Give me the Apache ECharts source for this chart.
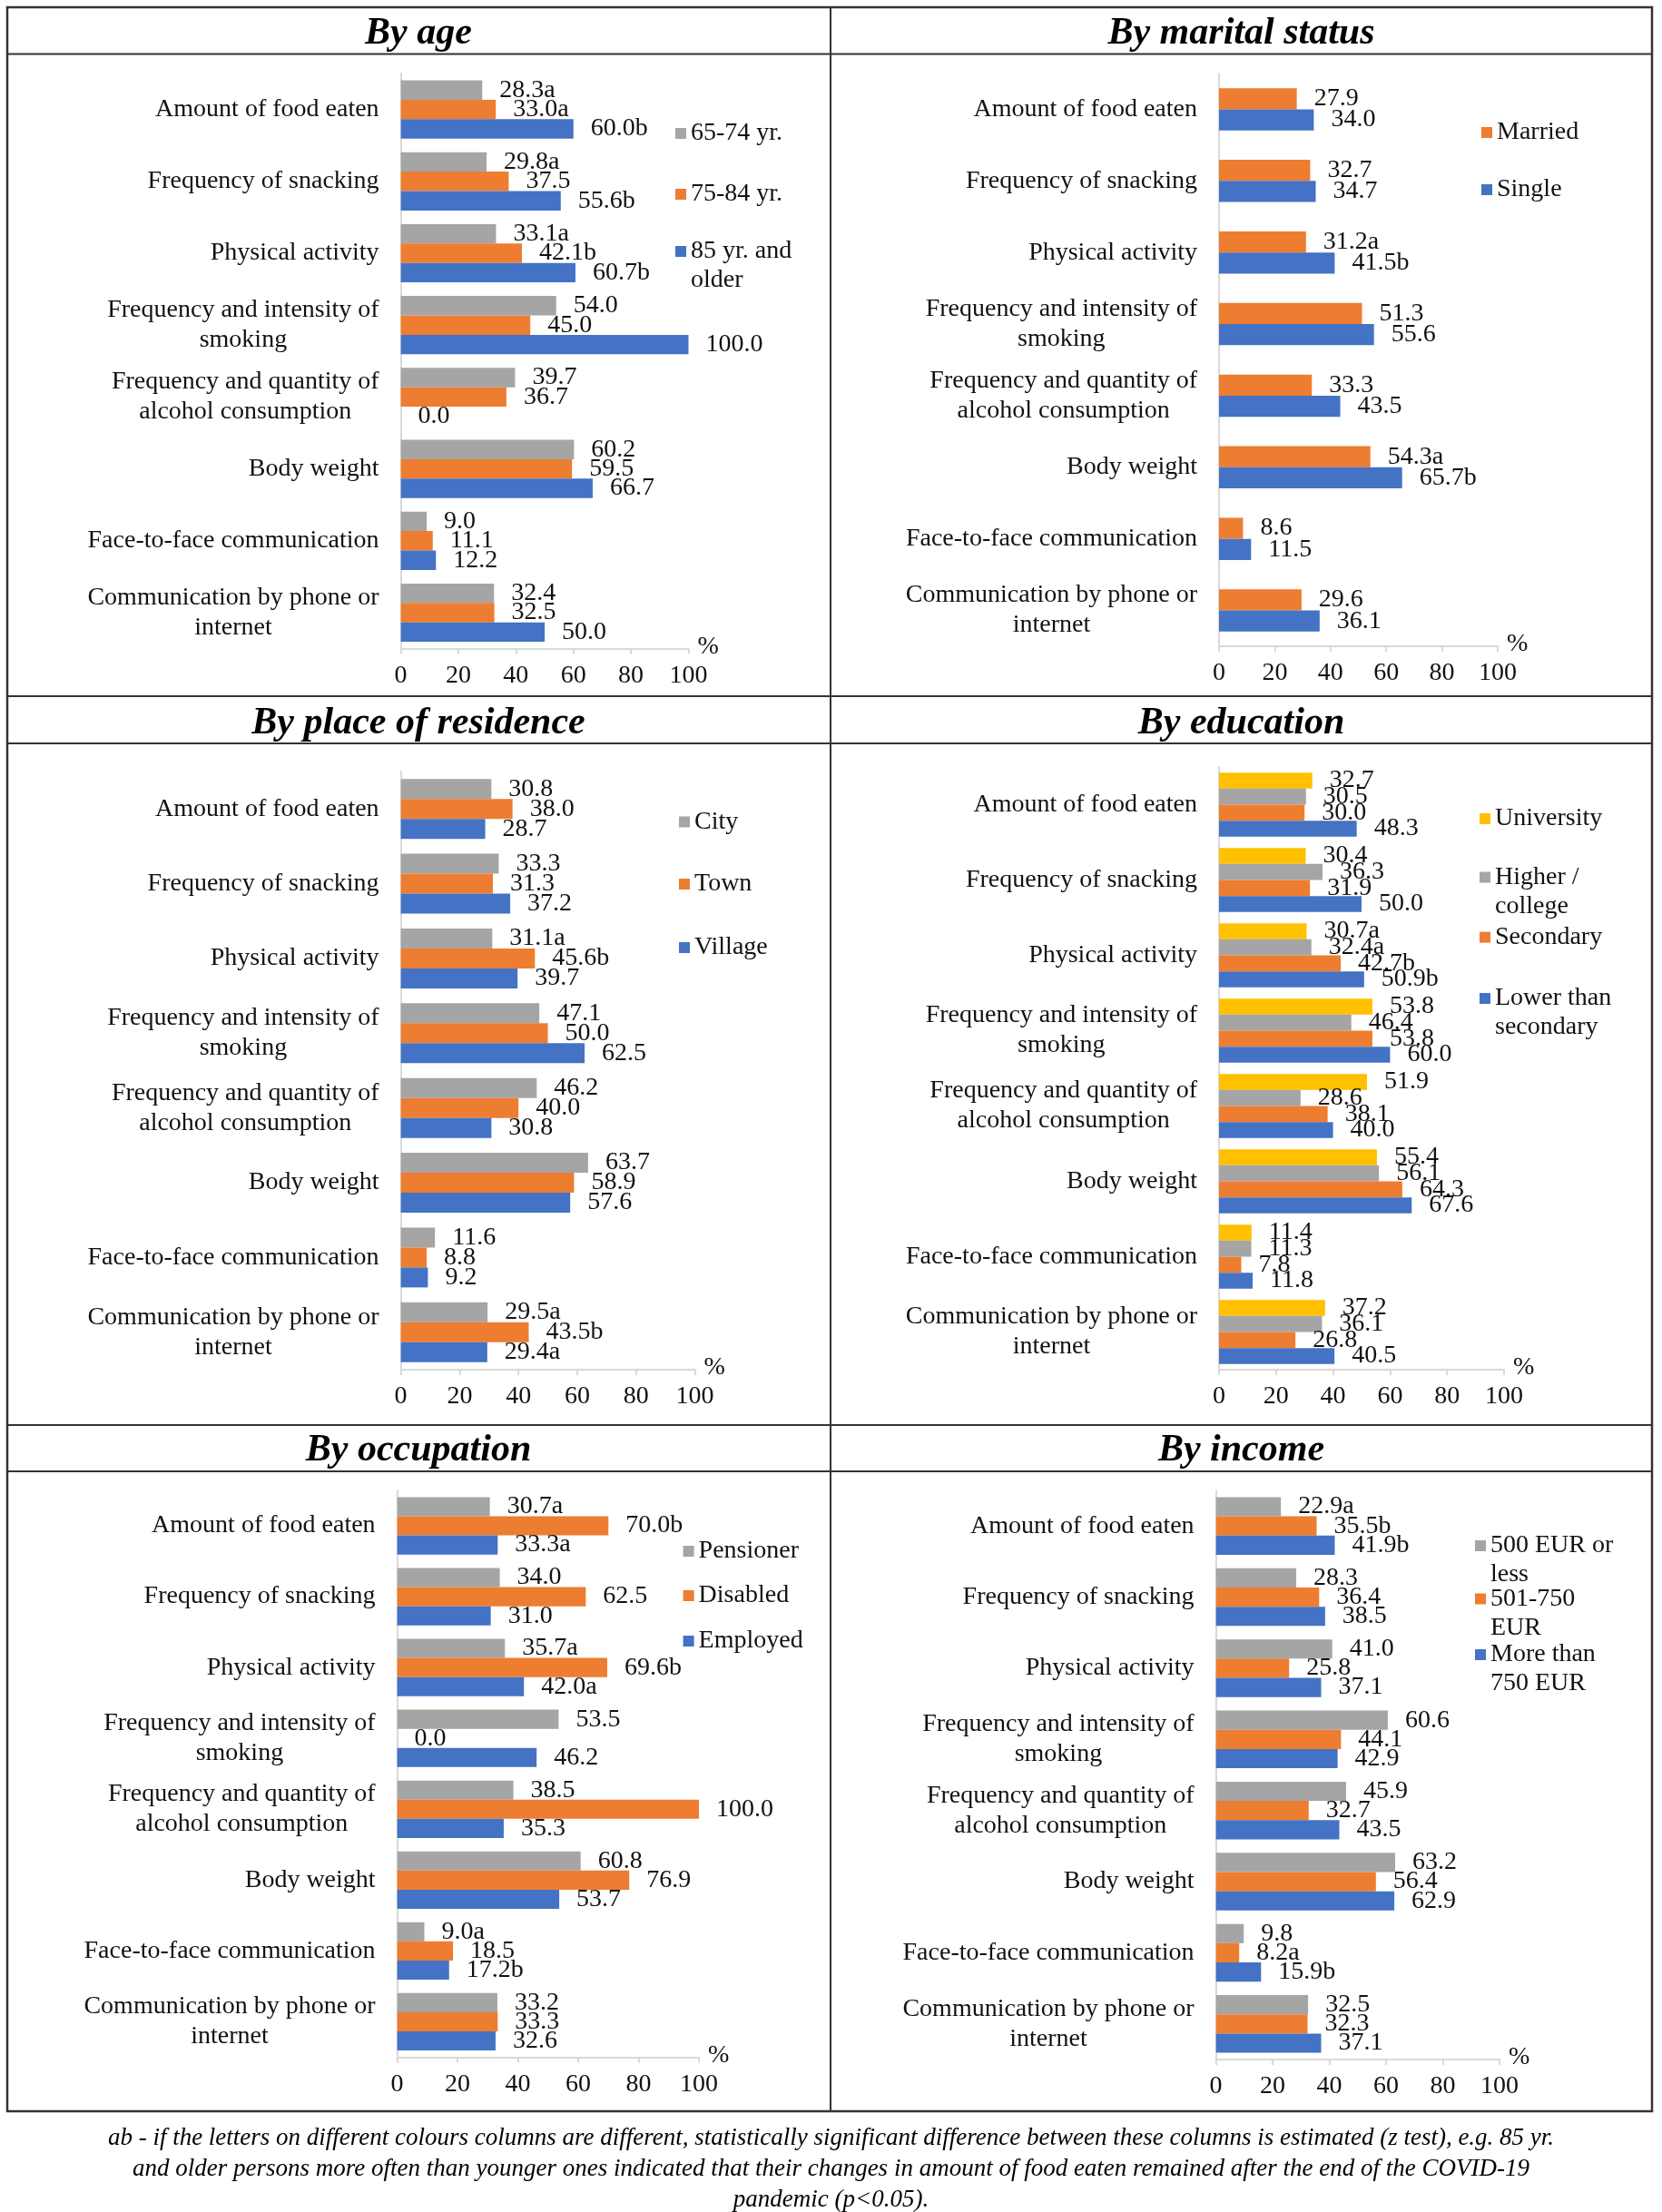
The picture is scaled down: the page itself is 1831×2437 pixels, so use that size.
<!DOCTYPE html>
<html><head><meta charset="utf-8">
<script src="https://cdn.jsdelivr.net/npm/echarts@6/dist/echarts.min.js"></script>
<style>html,body{margin:0;padding:0;background:#fff}#c{width:1831px;height:2437px}</style>
</head><body><div id="c"></div>
<script>
// ---------- DATA ----------
const categories = ['Amount of food eaten', 'Frequency of snacking', 'Physical activity',
  'Frequency and intensity of\nsmoking', 'Frequency and quantity of\nalcohol consumption',
  'Body weight', 'Face-to-face communication', 'Communication by phone or\ninternet'];
const xTicks = [0, 20, 40, 60, 80, 100];

const ageNames = ['65-74 yr.', '75-84 yr.', '85 yr. and older'];
const age6574 = [28.3, 29.8, 33.1, 54.0, 39.7, 60.2, 9.0, 32.4];
const age6574Sig = ['a', 'a', 'a', '', '', '', '', ''];
const age7584 = [33.0, 37.5, 42.1, 45.0, 36.7, 59.5, 11.1, 32.5];
const age7584Sig = ['a', '', 'b', '', '', '', '', ''];
const age85 = [60.0, 55.6, 60.7, 100.0, 0.0, 66.7, 12.2, 50.0];
const age85Sig = ['b', 'b', 'b', '', '', '', '', ''];

const maritalNames = ['Married', 'Single'];
const married = [27.9, 32.7, 31.2, 51.3, 33.3, 54.3, 8.6, 29.6];
const marriedSig = ['', '', 'a', '', '', 'a', '', ''];
const single = [34.0, 34.7, 41.5, 55.6, 43.5, 65.7, 11.5, 36.1];
const singleSig = ['', '', 'b', '', '', 'b', '', ''];

const residenceNames = ['City', 'Town', 'Village'];
const city = [30.8, 33.3, 31.1, 47.1, 46.2, 63.7, 11.6, 29.5];
const citySig = ['', '', 'a', '', '', '', '', 'a'];
const town = [38.0, 31.3, 45.6, 50.0, 40.0, 58.9, 8.8, 43.5];
const townSig = ['', '', 'b', '', '', '', '', 'b'];
const village = [28.7, 37.2, 39.7, 62.5, 30.8, 57.6, 9.2, 29.4];
const villageSig = ['', '', '', '', '', '', '', 'a'];

const educationNames = ['University', 'Higher / college', 'Secondary', 'Lower than secondary'];
const university = [32.7, 30.4, 30.7, 53.8, 51.9, 55.4, 11.4, 37.2];
const universitySig = ['', '', 'a', '', '', '', '', ''];
const higher = [30.5, 36.3, 32.4, 46.4, 28.6, 56.1, 11.3, 36.1];
const higherSig = ['', '', 'a', '', '', '', '', ''];
const secondary = [30.0, 31.9, 42.7, 53.8, 38.1, 64.3, 7.8, 26.8];
const secondarySig = ['', '', 'b', '', '', '', '', ''];
const lower = [48.3, 50.0, 50.9, 60.0, 40.0, 67.6, 11.8, 40.5];
const lowerSig = ['', '', 'b', '', '', '', '', ''];

const occupationNames = ['Pensioner', 'Disabled', 'Employed'];
const pensioner = [30.7, 34.0, 35.7, 53.5, 38.5, 60.8, 9.0, 33.2];
const pensionerSig = ['a', '', 'a', '', '', '', 'a', ''];
const disabled = [70.0, 62.5, 69.6, 0.0, 100.0, 76.9, 18.5, 33.3];
const disabledSig = ['b', '', 'b', '', '', '', '', ''];
const employed = [33.3, 31.0, 42.0, 46.2, 35.3, 53.7, 17.2, 32.6];
const employedSig = ['a', '', 'a', '', '', '', 'b', ''];

const incomeNames = ['500 EUR or less', '501-750 EUR', 'More than 750 EUR'];
const incLow = [22.9, 28.3, 41.0, 60.6, 45.9, 63.2, 9.8, 32.5];
const incLowSig = ['a', '', '', '', '', '', '', ''];
const incMid = [35.5, 36.4, 25.8, 44.1, 32.7, 56.4, 8.2, 32.3];
const incMidSig = ['b', '', '', '', '', '', 'a', ''];
const incHigh = [41.9, 38.5, 37.1, 42.9, 43.5, 62.9, 15.9, 37.1];
const incHighSig = ['b', '', '', '', '', '', 'b', ''];

const footnote = 'ab - if the letters on different colours columns are different, statistically significant difference between these columns is estimated (z test), e.g. 85 yr.\nand older persons more often than younger ones indicated that their changes in amount of food eaten remained after the end of the COVID-19\npandemic (p<0.05).';

// ---------- STYLE / LAYOUT ----------
const FONT = 'Liberation Serif';
const GRAY = '#A5A5A5', ORANGE = '#ED7D31', BLUE = '#4472C4', YELLOW = '#FFC000';
const TXT = '#111';
const FS = 28;

const legendBreaks = {
  '85 yr. and older': ['85 yr. and', 'older'],
  'Higher / college': ['Higher /', 'college'],
  'Lower than secondary': ['Lower than', 'secondary'],
  '500 EUR or less': ['500 EUR or', 'less'],
  '501-750 EUR': ['501-750', 'EUR'],
  'More than 750 EUR': ['More than', '750 EUR']
};

const panels = [
  { title: 'By age', tx: 461, ty: 37, x0: 441.6, x100: 758.5, top: 81, bottom: 714.6, gap: '19%',
    series: [[ageNames[0], age6574, age6574Sig, GRAY], [ageNames[1], age7584, age7584Sig, ORANGE], [ageNames[2], age85, age85Sig, BLUE]],
    lx: 744, ly: [147, 214, 277] },
  { title: 'By marital status', tx: 1367.5, ty: 37, x0: 1343, x100: 1650, top: 81, bottom: 712, gap: '41%',
    series: [[maritalNames[0], married, marriedSig, ORANGE], [maritalNames[1], single, singleSig, BLUE]],
    lx: 1632, ly: [146, 209] },
  { title: 'By place of residence', tx: 461, ty: 797, x0: 441.6, x100: 765.5, top: 850, bottom: 1509, gap: '20%',
    series: [[residenceNames[0], city, citySig, GRAY], [residenceNames[1], town, townSig, ORANGE], [residenceNames[2], village, villageSig, BLUE]],
    lx: 748, ly: [905.5, 974, 1044] },
  { title: 'By education', tx: 1367.5, ty: 797, x0: 1343, x100: 1657, top: 845, bottom: 1509, gap: '15%',
    series: [[educationNames[0], university, universitySig, YELLOW], [educationNames[1], higher, higherSig, GRAY], [educationNames[2], secondary, secondarySig, ORANGE], [educationNames[3], lower, lowerSig, BLUE]],
    lx: 1630, ly: [902, 966.5, 1032.6, 1100] },
  { title: 'By occupation', tx: 461, ty: 1598, x0: 437.6, x100: 770, top: 1642, bottom: 2266.5, gap: '19%',
    series: [[occupationNames[0], pensioner, pensionerSig, GRAY], [occupationNames[1], disabled, disabledSig, ORANGE], [occupationNames[2], employed, employedSig, BLUE]],
    lx: 752.6, ly: [1709, 1758, 1808] },
  { title: 'By income', tx: 1367.5, ty: 1598, x0: 1339.6, x100: 1652, top: 1642, bottom: 2269, gap: '19%',
    series: [[incomeNames[0], incLow, incLowSig, GRAY], [incomeNames[1], incMid, incMidSig, ORANGE], [incomeNames[2], incHigh, incHighSig, BLUE]],
    lx: 1625, ly: [1703, 1761.5, 1823] }
];

const grid = [], xAxis = [], yAxis = [], series = [], legend = [], graphic = [];

panels.forEach((p, i) => {
  grid.push({ left: p.x0, top: p.top, width: p.x100 - p.x0, height: p.bottom - p.top, containLabel: false });
  xAxis.push({
    type: 'value', gridIndex: i, min: xTicks[0], max: xTicks[xTicks.length - 1], interval: xTicks[1] - xTicks[0],
    name: '%', nameLocation: 'end', nameGap: 10,
    nameTextStyle: { fontFamily: FONT, fontSize: FS, color: TXT, verticalAlign: 'bottom', padding: [0, 0, -12, 0] },
    axisLine: { show: true, lineStyle: { color: '#D9D9D9', width: 2 } },
    axisTick: { show: true, length: 6, lineStyle: { color: '#D9D9D9', width: 2 } },
    splitLine: { show: false },
    axisLabel: { fontFamily: FONT, fontSize: FS, color: TXT, margin: 16 }
  });
  yAxis.push({
    type: 'category', gridIndex: i, data: categories, inverse: true,
    axisLine: { show: true, lineStyle: { color: '#D9D9D9', width: 2 } },
    axisTick: { show: false },
    axisLabel: {
      margin: 24, align: 'right',
      formatter: v => v.split('\n').map(l => '{c|' + l + '}').join('\n'),
      rich: { c: { fontFamily: FONT, fontSize: FS, color: TXT, lineHeight: 33, align: 'center' } }
    }
  });
  p.series.forEach((s, k) => {
    const [name, data, sig, color] = s;
    series.push({
      type: 'bar', name, data, xAxisIndex: i, yAxisIndex: i,
      barGap: '0%', barCategoryGap: p.gap,
      itemStyle: { color },
      silent: true, animation: false,
      label: {
        show: true, position: 'right', distance: 19,
        fontFamily: FONT, fontSize: FS, color: TXT,
        formatter: q => q.value.toFixed(1) + sig[q.dataIndex]
      }
    });
    const lines = legendBreaks[name] || [name];
    legend.push({
      data: [name], left: p.lx, top: p.ly[k] - 15, orient: 'vertical', padding: 0,
      icon: 'rect', itemWidth: 12, itemHeight: 12, itemGap: 0, selectedMode: false,
      formatter: () => lines[0],
      textStyle: { fontFamily: FONT, fontSize: FS, color: TXT, lineHeight: 30, padding: [0, 0, 0, 0] }
    });
    if (lines.length > 1) {
      graphic.push({ type: 'text', x: p.lx + 17, y: p.ly[k] + 32,
        style: { text: lines[1], font: FS + 'px ' + FONT, fill: TXT, textAlign: 'left', textVerticalAlign: 'middle' } });
    }
  });
  graphic.push({ type: 'text', x: p.tx, y: p.ty,
    style: { text: p.title, font: 'italic bold 42px ' + FONT, fill: '#000', textAlign: 'center', textVerticalAlign: 'middle' } });
});

// table borders
const LC = '#333';
graphic.push({ type: 'rect', shape: { x: 8, y: 8, width: 1812, height: 2318 }, style: { fill: null, stroke: LC, lineWidth: 2.5 } });
graphic.push({ type: 'line', shape: { x1: 915, y1: 8, x2: 915, y2: 2326 }, style: { stroke: LC, lineWidth: 2 } });
[59.5, 767, 819, 1570, 1621].forEach(y => {
  graphic.push({ type: 'line', shape: { x1: 8, y1: y, x2: 1820, y2: y }, style: { stroke: LC, lineWidth: 2 } });
});
graphic.push({ type: 'text', x: 915.5, y: 2339,
  style: { text: footnote, font: 'italic 27px ' + FONT, fill: '#000', textAlign: 'center', textVerticalAlign: 'top', lineHeight: 34 } });

const chart = echarts.init(document.getElementById('c'), null, { renderer: 'canvas' });
chart.setOption({ backgroundColor: '#fff', animation: false, grid, xAxis, yAxis, series, legend, graphic });
</script></body></html>
